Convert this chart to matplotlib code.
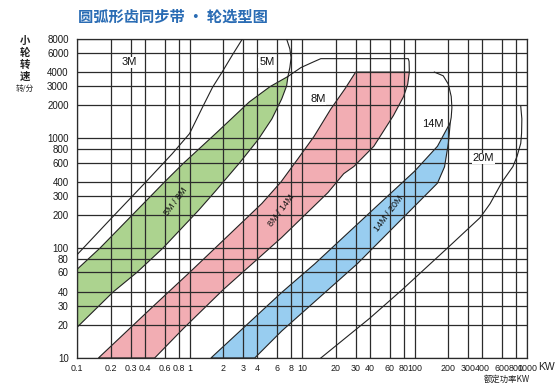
import matplotlib
matplotlib.use('Agg')
import matplotlib.pyplot as plt

plt.rcParams['font.family'] = ['Liberation Sans', 'Noto Sans CJK SC', 'DejaVu Sans']

# tick values / labels
x_ticks = [0.1, 0.2, 0.3, 0.4, 0.6, 0.8, 1, 2, 3, 4, 6, 8, 10, 20, 30, 40, 60, 80,
           100, 200, 300, 400, 600, 800, 1000]
x_labels = ['0.1', '0.2', '0.3', '0.4', '0.6', '0.8', '1', '2', '3', '4', '6', '8',
            '10', '20', '30', '40', '60', '80', '100', '200', '300', '400', '600',
            '800', '1000']
y_ticks = [10, 20, 30, 40, 60, 80, 100, 200, 300, 400, 600, 800, 1000, 2000, 3000,
           4000, 6000, 8000]

# 3M limit line
x_3m = [0.1, 0.2, 0.4, 0.7, 1.0, 1.3, 1.6, 1.95, 2.4, 2.95]
y_3m = [87, 185, 390, 720, 1100, 1900, 2900, 4000, 5700, 8000]

# 5M limit arc
x_5m = [7.3, 7.8, 8.0, 7.8, 7.5]
y_5m = [8000, 6500, 5400, 4400, 3650]

# 8M limit line
x_8m = [7.5, 9.8, 12.8, 14.7, 20, 88, 89.5, 90]
y_8m = [3650, 4400, 4980, 5300, 5300, 5300, 5000, 4000]

# 14M limit arc
x_14m = [150, 180, 200, 212, 215, 212, 208]
y_14m = [4000, 3700, 3100, 2400, 1900, 1550, 1390]

# 20M limit line
x_20m = [14.7, 40, 78, 200, 384, 470, 600, 750, 815, 880, 895, 900, 880]
y_20m = [10, 23, 42, 102, 190, 254, 400, 553, 683, 900, 1110, 1500, 1950]

# 5M/8M band
green_up_x = [0.1, 0.16, 0.31, 0.6, 0.88, 1.72, 3.4, 5.2, 7.5]
green_up_y = [64, 100, 200, 400, 590, 1110, 2140, 2950, 3650]
green_lo_x = [0.1, 0.21, 0.34, 0.58, 1.2, 1.7, 2.8, 4.1, 5.4, 6.6, 7.3, 7.5]
green_lo_y = [19, 40, 60, 100, 220, 330, 600, 980, 1500, 2280, 3000, 3650]

# 8M/14M band
pink_up_x = [0.155, 0.5, 1.0, 2.0, 4.4, 6.5, 9.2, 12.8, 18, 24, 30, 90]
pink_up_y = [10, 31, 60, 118, 255, 400, 650, 1040, 1840, 2800, 4000, 4000]
pink_lo_x = [0.49, 0.88, 2, 6.6, 17, 23.5, 28.9, 43.5, 65, 80, 87, 90]
pink_lo_y = [10, 18.5, 42, 125, 320, 476, 553, 845, 1610, 2400, 3100, 4000]

# 14M/20M band
blue_up_x = [1.55, 6.6, 13, 46, 100, 160, 208]
blue_up_y = [10, 39.5, 72, 240, 500, 845, 1390]
blue_lo_x = [3.8, 6.6, 31, 120, 160, 185, 200, 208]
blue_lo_y = [10, 17.6, 72, 290, 390, 550, 900, 1390]

grid_c = '#2b2b2b'
cjk = ['Noto Sans CJK SC', 'DejaVu Sans']

fig = plt.figure(figsize=(5.6, 3.88), dpi=100)
ax = fig.add_axes([77 / 560, 1 - 358 / 388, 450 / 560, 319 / 388])
ax.set_xscale('log')
ax.set_yscale('log')
ax.set_xlim(0.1, 1000)
ax.set_ylim(10, 8000)


def band(ux, uy, lx, ly, color):
    xs = list(ux) + list(lx[::-1])
    ys = list(uy) + list(ly[::-1])
    ax.fill(xs, ys, facecolor=color, edgecolor='#222222', lw=0.8, zorder=1)


band(green_up_x, green_up_y, green_lo_x, green_lo_y, '#acd38f')
band(pink_up_x, pink_up_y, pink_lo_x, pink_lo_y, '#f2adb3')
band(blue_up_x, blue_up_y, blue_lo_x, blue_lo_y, '#98cdf0')

for xs, ys in [(x_3m, y_3m), (x_5m, y_5m), (x_8m, y_8m), (x_14m, y_14m), (x_20m, y_20m)]:
    ax.plot(xs, ys, color='#222222', lw=0.8, zorder=3)

ax.minorticks_off()
ax.set_xticks(x_ticks)
ax.set_xticklabels(x_labels)
ax.set_yticks(y_ticks)
ax.set_yticklabels([str(v) for v in y_ticks])
ax.tick_params(length=0, labelsize=7, colors='#1a1a1a')
ax.tick_params(axis='x', pad=4, labelsize=6.4)
ax.tick_params(axis='y', pad=6)
ax.grid(True, color=grid_c, lw=0.9)
for s in ax.spines.values():
    s.set_color(grid_c)
    s.set_linewidth(0.9)

# zone labels
for tx, ty, t in [(0.29, 4890, '3M'), (4.86, 4890, '5M'), (13.9, 2280, '8M'),
                  (147, 1355, '14M'), (408, 656, '20M')]:
    ax.text(tx, ty, t, fontsize=8, ha='center', va='center', color='#111111',
            bbox=dict(facecolor='white', edgecolor='none', pad=0.5), zorder=4)

for tx, ty, t in [(0.76, 264, '5M / 8M'), (6.6, 218, '8M / 14M'), (58.8, 205, '14M / 20M')]:
    ax.text(tx, ty, t, fontsize=6.5, ha='center', va='center', rotation=53,
            color='#111111', zorder=4)

fig.text(78 / 560, 1 - 17 / 388, '圆弧形齿同步带 · 轮选型图', fontsize=11,
         fontweight='bold', color='#2a6cb4', ha='left', va='center', family=cjk)
fig.text(25 / 560, 1 - 59 / 388, '小\n轮\n转\n速', fontsize=7.5, fontweight='bold',
         color='#222222', ha='center', va='center', linespacing=1.2, family=cjk)
fig.text(25 / 560, 1 - 89 / 388, '转/分', fontsize=5.5, color='#222222',
         ha='center', va='center', family=cjk)
fig.text(538 / 560, 1 - 367 / 388, 'KW', fontsize=7.5, color='#222222',
         ha='left', va='center')
fig.text(507 / 560, 1 - 379 / 388, '额定功率KW', fontsize=6, color='#222222',
         ha='center', va='center', family=cjk)

fig.savefig('out.png', dpi=100)
